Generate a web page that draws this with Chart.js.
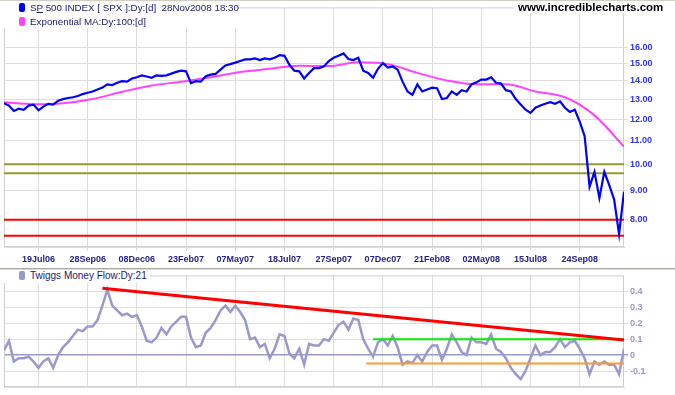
<!DOCTYPE html>
<html>
<head>
<meta charset="utf-8">
<script src="https://cdn.jsdelivr.net/npm/chart.js@4.4.0/dist/chart.umd.min.js"></script>
<style>
  body { margin: 0; width: 675px; height: 395px; background: #fff; position: relative; overflow: hidden;
         font-family: "Liberation Sans", Arial, sans-serif; }
  canvas { position: absolute; left: 0; }
  #priceChart { top: 0; }
  #flowChart { top: 268px; }
  .box { position: absolute; background: #fff; z-index: 2; }
  .legend { position: absolute; z-index: 3; font-size: 9.8px; color: #1a1a6e; white-space: nowrap; line-height: 12px; }
  .sw { position: absolute; left: -11px; top: 1px; width: 6px; height: 9px; border-radius: 2px; }
  .site { position: absolute; z-index: 3; left: 518px; top: 1px; font: bold 11.5px "Liberation Sans", Arial, sans-serif; color: #000; line-height: 13px; }
  .sep { position: absolute; z-index: 4; left: 0; width: 675px; }
</style>
</head>
<body>
<canvas id="priceChart" width="675" height="268"></canvas>
<canvas id="flowChart" width="675" height="127"></canvas>

<div class="sep" style="top:0;height:1px;background:#cfcfc4"></div>
<div class="box" style="left:0;top:1px;width:236px;height:27px"></div>
<div class="box" style="left:514px;top:1px;width:158px;height:12px"></div>
<div class="legend" style="left:30px;top:2px"><span class="sw" style="background:#0000ff"></span>S<u>P</u> 500 INDEX [ SPX ]:Dy:[d]&nbsp;&nbsp;28Nov2008 18:30</div>
<div class="legend" style="left:30px;top:16px"><span class="sw" style="background:#ff44ff"></span>Exponential MA:Dy:100:[d]</div>
<div class="site">www.incrediblecharts.com</div>

<div class="sep" style="top:268px;height:1px;background:#a8a8a0"></div>
<div class="sep" style="top:269px;height:1px;background:#dcdcd4"></div>
<div class="box" style="left:0;top:270px;width:150px;height:13px"></div>
<div class="legend" style="left:30px;top:270px;font-size:10px"><span class="sw" style="background:#9999cc"></span>Twiggs Money Flow:Dy:21</div>

<script>
// weekly samples, 28 May 2006 .. 28 Nov 2008 (index = week number)
const priceValues = [
  12.79, 12.67, 12.40, 12.51, 12.46, 12.67, 12.72, 12.43, 12.62, 12.76,
  12.72, 12.92, 13.00, 13.06, 13.10, 13.17, 13.27, 13.34, 13.41, 13.52,
  13.62, 13.80, 13.76, 13.89, 13.98, 13.95, 14.13, 14.20, 14.30, 14.24,
  14.17, 14.31, 14.28, 14.31, 14.41, 14.51, 14.58, 14.54, 13.87, 13.98,
  13.95, 14.26, 14.35, 14.39, 14.64, 14.89, 14.97, 15.06, 15.16, 15.26,
  15.26, 15.32, 15.22, 15.32, 15.26, 15.36, 15.52, 15.48, 14.93, 14.58,
  14.54, 14.13, 14.45, 14.73, 14.73, 14.83, 15.16, 15.36, 15.48, 15.63,
  15.28, 15.22, 15.36, 14.58, 14.45, 14.17, 14.69, 15.03, 14.77, 14.83,
  14.64, 13.95, 13.41, 13.23, 13.80, 13.41, 13.52, 13.62, 13.59, 13.01,
  13.06, 13.41, 13.23, 13.48, 13.41, 13.80, 13.91, 14.07, 14.07, 14.20,
  13.89, 13.84, 13.48, 13.41, 13.01, 12.72, 12.46, 12.30, 12.56, 12.67,
  12.76, 12.84, 12.76, 12.89, 12.56, 12.35, 12.46, 11.88, 11.20, 9.14,
  9.70, 8.73, 9.70, 9.20, 8.68, 7.55, 8.96
];

// 100 day EMA, read every 6th week
const EMA_STEP = 6;
const emaValues = [
  12.84, 12.74, 12.79, 13.01, 13.39, 13.73, 13.95, 14.20, 14.50, 14.69, 14.87,
  14.85, 15.08, 14.97, 14.45, 14.02, 13.80, 13.80, 13.41, 13.10, 12.18, 10.74
];

const flowValues = [
  0.03, 0.09, -0.04, -0.02, -0.02, -0.01, -0.04, -0.08, -0.04, -0.02,
  -0.08, 0.00, 0.05, 0.08, 0.12, 0.16, 0.15, 0.18, 0.18, 0.22,
  0.31, 0.41, 0.31, 0.28, 0.25, 0.26, 0.24, 0.25, 0.18, 0.09,
  0.08, 0.11, 0.17, 0.13, 0.18, 0.21, 0.24, 0.24, 0.11, 0.05,
  0.06, 0.14, 0.17, 0.22, 0.28, 0.31, 0.27, 0.31, 0.27, 0.22,
  0.10, 0.11, 0.05, 0.07, -0.02, 0.04, 0.13, 0.12, 0.01, -0.02,
  0.04, -0.06, 0.07, 0.06, 0.06, 0.10, 0.09, 0.14, 0.19, 0.21,
  0.16, 0.23, 0.22, 0.10, 0.04, -0.01, 0.08, 0.10, 0.06, 0.12,
  0.05, -0.06, -0.04, -0.05, 0.00, -0.04, 0.02, 0.06, 0.06, -0.03,
  0.04, 0.13, 0.08, 0.02, 0.00, 0.11, 0.08, 0.08, 0.07, 0.13,
  0.04, 0.02, -0.02, -0.08, -0.12, -0.15, -0.10, -0.02, 0.06, 0.00,
  0.02, 0.02, 0.05, 0.10, 0.05, 0.08, 0.09, 0.04, -0.02, -0.12,
  -0.04, -0.06, -0.04, -0.06, -0.06, -0.12, 0.04
];

// support / resistance levels on the price panel
const oliveLevels = [10.0, 9.65];
const redLevels = [8.0, 7.5];

// trend lines on the money flow panel: [week, value] end points
const flowResistance = [[20, 0.42], [126, 0.095]];
const flowUpper = [[75, 0.10], [126, 0.10]];
const flowLower = [[73.6, -0.052], [126, -0.052]];

const tickIdx = [7, 17, 27, 37, 47, 57, 67, 77, 87, 97, 107, 117];
const tickLabels = ['19Jul06', '28Sep06', '08Dec06', '23Feb07', '07May07', '18Jul07',
  '27Sep07', '07Dec07', '21Feb08', '02May08', '15Jul08', '24Sep08'];
const priceTicks = [8, 9, 10, 11, 12, 13, 14, 15, 16];
const flowTicks = [-0.1, 0, 0.1, 0.2, 0.3, 0.4];

const LAST = priceValues.length - 1;
const GRID = '#dedede';

Chart.defaults.font.family = '"Liberation Sans", Arial, sans-serif';
Chart.defaults.animation = false;

// light frame round the plot area
const frame = {
  id: 'frame',
  beforeDatasetsDraw(chart) {
    const { ctx, chartArea: a } = chart;
    ctx.save();
    ctx.strokeStyle = '#d0d0d0';
    ctx.lineWidth = 1;
    ctx.strokeRect(a.left + 0.5, a.top + 0.5, a.right - a.left - 1, a.bottom - a.top - 1);
    ctx.restore();
  }
};

function flat(level, color) {
  return {
    data: [{ x: 0, y: level }, { x: LAST, y: level }],
    borderColor: color, borderWidth: 2, pointRadius: 0
  };
}

function segment(pts, color, width) {
  return {
    data: pts.map(p => ({ x: p[0], y: p[1] })),
    borderColor: color, borderWidth: width, pointRadius: 0
  };
}

new Chart(document.getElementById('priceChart'), {
  type: 'line',
  data: {
    datasets: [
      {
        data: priceValues.map((v, i) => ({ x: i, y: v })),
        borderColor: '#0000ff', borderWidth: 2.2, pointRadius: 0, tension: 0
      },
      {
        data: emaValues.map((v, k) => ({ x: k * EMA_STEP, y: v })),
        borderColor: '#ff44ff', borderWidth: 2, pointRadius: 0, cubicInterpolationMode: 'monotone'
      },
      ...oliveLevels.map(l => flat(l, '#999933')),
      ...redLevels.map(l => flat(l, '#ff0000'))
    ]
  },
  options: {
    responsive: false,
    layout: { padding: { left: 4, top: 1, right: 0, bottom: 0 } },
    plugins: { legend: { display: false }, tooltip: { enabled: false } },
    scales: {
      x: {
        type: 'linear', min: 0, max: LAST,
        afterBuildTicks: s => { s.ticks = tickIdx.map(v => ({ value: v })); },
        afterFit: s => { s.height = 21; },
        grid: { color: GRID, tickLength: 4 },
        border: { color: GRID },
        ticks: {
          callback: v => tickLabels[tickIdx.indexOf(v)],
          font: { size: 9, weight: 'bold' }, color: '#22228c',
          padding: 3, maxRotation: 0, autoSkip: false
        }
      },
      y: {
        type: 'logarithmic', position: 'right', min: 7.17, max: 18.81,
        afterBuildTicks: s => { s.ticks = priceTicks.map(v => ({ value: v })); },
        afterFit: s => { s.width = 51; },
        grid: { color: GRID, tickLength: 4 },
        border: { display: false },
        ticks: {
          callback: v => Number(v).toFixed(2),
          font: { size: 9, weight: 'bold' }, color: '#3333ee',
          padding: 2, autoSkip: false
        }
      }
    }
  },
  plugins: [frame]
});

new Chart(document.getElementById('flowChart'), {
  type: 'line',
  data: {
    datasets: [
      segment(flowResistance, '#ff0000', 3),
      segment(flowUpper, '#00ee00', 2),
      segment(flowLower, '#ff9933', 2),
      {
        data: flowValues.map((v, i) => ({ x: i, y: v })),
        borderColor: '#9999cc', borderWidth: 2.5, pointRadius: 0, tension: 0
      }
    ]
  },
  options: {
    responsive: false,
    layout: { padding: { left: 4, top: 2, right: 0, bottom: 0 } },
    plugins: { legend: { display: false }, tooltip: { enabled: false } },
    scales: {
      x: {
        type: 'linear', min: 0, max: LAST,
        afterBuildTicks: s => { s.ticks = tickIdx.map(v => ({ value: v })); },
        afterFit: s => { s.height = 8; },
        grid: { color: GRID, drawTicks: false },
        border: { color: GRID },
        ticks: { display: false }
      },
      y: {
        position: 'right', min: -0.2, max: 0.5,
        afterBuildTicks: s => { s.ticks = flowTicks.map(v => ({ value: v })); },
        afterFit: s => { s.width = 51; },
        grid: {
          color: c => (c.tick && Math.abs(c.tick.value) < 1e-9 ? '#9a9acc' : GRID),
          lineWidth: c => (c.tick && Math.abs(c.tick.value) < 1e-9 ? 1.5 : 1),
          tickLength: 4
        },
        border: { display: false },
        ticks: {
          callback: v => (Math.abs(v) < 1e-9 ? '0' : Number(v).toFixed(1)),
          font: { size: 9, weight: 'bold' }, color: '#9999cc',
          padding: 2, autoSkip: false
        }
      }
    }
  },
  plugins: [frame]
});
</script>
</body>
</html>
